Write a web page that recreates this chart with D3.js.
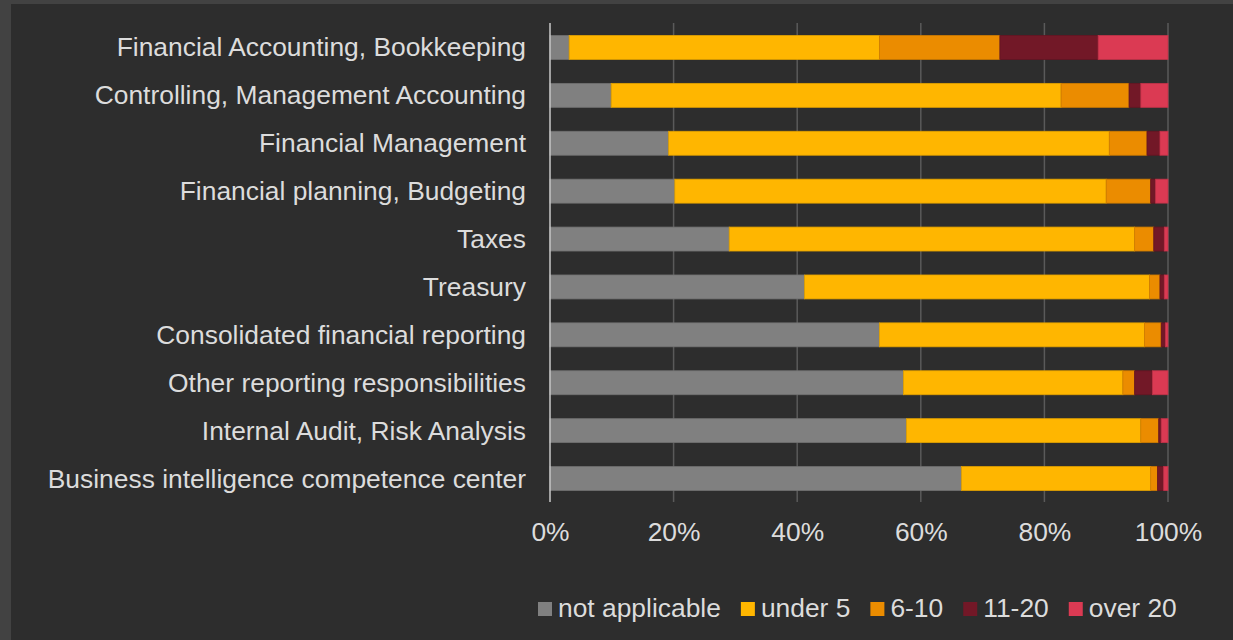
<!DOCTYPE html>
<html>
<head>
<meta charset="utf-8">
<script src="https://cdn.jsdelivr.net/npm/d3@7"></script>
<style>
  html, body { margin: 0; padding: 0; background: #2d2d2d; }
  svg { display: block; }
  text { font-family: "Liberation Sans", Arial, sans-serif; }
</style>
</head>
<body>
<svg id="chart" width="1233" height="640"></svg>
<script>
const categories = [
  "Financial Accounting, Bookkeeping",
  "Controlling, Management Accounting",
  "Financial Management",
  "Financial planning, Budgeting",
  "Taxes",
  "Treasury",
  "Consolidated financial reporting",
  "Other reporting responsibilities",
  "Internal Audit, Risk Analysis",
  "Business intelligence competence center"
];
const seriesNames = ["not applicable", "under 5", "6-10", "11-20", "over 20"];
const notApplicable = [3.1, 9.9, 19.2, 20.2, 29.0, 41.2, 53.3, 57.2, 57.7, 66.6];
const under5        = [50.2, 72.8, 71.3, 69.8, 65.6, 55.8, 42.9, 35.5, 37.9, 30.6];
const y6to10        = [19.5, 11.0, 6.1, 7.2, 3.1, 1.7, 2.7, 1.9, 2.9, 1.1];
const y11to20       = [15.9, 1.9, 2.1, 0.8, 1.7, 0.7, 0.7, 2.9, 0.4, 1.0];
const over20        = [11.3, 4.4, 1.3, 2.0, 0.6, 0.6, 0.4, 2.5, 1.1, 0.7];
const tickValues = [0, 20, 40, 60, 80, 100];
const colors = ["#808080", "#ffb600", "#eb8c00", "#721827", "#db3a53"];
const FS = "26.4px";

const svg = d3.select("#chart");
// frame
svg.append("rect").attr("x", 0).attr("y", 0).attr("width", 1233).attr("height", 640).attr("fill", "#424242");
svg.append("rect").attr("x", 11).attr("y", 4).attr("width", 1222).attr("height", 636).attr("fill", "#2d2d2d");

const rows = categories.map((c, i) => {
  const vals = [notApplicable[i], under5[i], y6to10[i], y11to20[i], over20[i]];
  const total = d3.sum(vals);
  const o = { cat: c };
  seriesNames.forEach((s, k) => o[s] = vals[k] / total * 100);
  return o;
});
const stacked = d3.stack().keys(seriesNames)(rows);

const x = d3.scaleLinear().domain([0, 100]).range([550, 1168]);
const y = d3.scaleBand().domain(categories).range([23, 502]).paddingInner(0.5).paddingOuter(0.25);

// gridlines
svg.append("g").selectAll("line").data(tickValues.slice(1)).join("line")
  .attr("x1", d => x(d)).attr("x2", d => x(d))
  .attr("y1", 23).attr("y2", 502)
  .attr("stroke", "#5a5a5a").attr("stroke-width", 1.5);

// bars
const color = d3.scaleOrdinal().domain(seriesNames).range(colors);
svg.append("g").selectAll("g").data(stacked).join("g")
  .attr("fill", d => color(d.key))
  .attr("stroke", d => d3.color(color(d.key)).darker(0.35))
  .attr("stroke-width", 0.8)
  .selectAll("rect").data(d => d).join("rect")
  .attr("x", d => x(d[0]))
  .attr("width", d => Math.max(0, x(d[1]) - x(d[0])))
  .attr("y", d => y(d.data.cat) + 0.5)
  .attr("height", y.bandwidth());

// left axis line
svg.append("line").attr("x1", x(0)).attr("x2", x(0)).attr("y1", 23).attr("y2", 502)
  .attr("stroke", "#c8c8c8").attr("stroke-width", 1.5);

// category labels
const yAxis = d3.axisLeft(y).tickSize(0).tickPadding(24);
const ya = svg.append("g").attr("transform", `translate(${x(0)},1)`).call(yAxis);
ya.select(".domain").remove();
ya.selectAll("text").attr("fill", "#dcdcdc").style("font-size", FS)
  .attr("font-family", "'Liberation Sans', Arial, sans-serif");

// x axis
const xAxis = d3.axisBottom(x).tickValues(tickValues).tickFormat(d => d + "%").tickSize(0).tickPadding(20);
const xa = svg.append("g").attr("transform", "translate(0,502)").call(xAxis);
xa.select(".domain").remove();
xa.selectAll("text").attr("fill", "#dcdcdc").style("font-size", FS)
  .attr("font-family", "'Liberation Sans', Arial, sans-serif");

// legend
const legend = svg.append("g").attr("transform", "translate(538,0)");
let cx = 0;
seriesNames.forEach((s, k) => {
  const g = legend.append("g").attr("transform", `translate(${cx},0)`);
  g.append("rect").attr("x", 0).attr("y", 602).attr("width", 14).attr("height", 14).attr("fill", colors[k]);
  const t = g.append("text").attr("x", 20).attr("y", 617).attr("fill", "#dcdcdc")
    .style("font-size", FS).text(s);
  cx += 20 + t.node().getComputedTextLength() + 20;
});
</script>
</body>
</html>
